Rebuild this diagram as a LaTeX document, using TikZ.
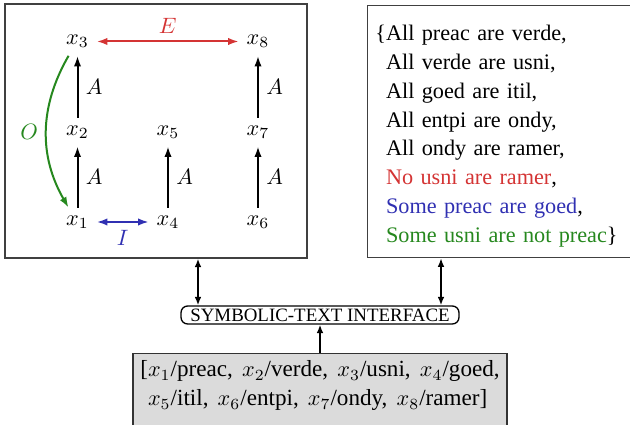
\documentclass[tikz,border=0pt]{standalone}
\usepackage[no-math]{fontspec}
\setmainfont{Liberation Serif}
\usetikzlibrary{arrows.meta}
\definecolor{RojoE}{RGB}{212,52,52}
\definecolor{AzulI}{RGB}{48,48,178}
\definecolor{VerdeO}{RGB}{38,136,30}

\begin{document}
\begin{tikzpicture}[x=0.45pt, y=-0.45pt, >={Latex[length=4.8pt,width=3.3pt]},
    frame/.style={draw=black!75, line width=0.6pt},
    rel/.style={->, line width=0.9pt},
    link/.style={line width=0.7pt, {Latex[length=3.8pt,width=3pt]}-{Latex[length=3.8pt,width=3pt]}}]
    \useasboundingbox (0,0) rectangle (630,425);

    \node[frame, minimum width=135.9pt, minimum height=114.3pt] (logic) at (156,131) {};
    \foreach \n/\x/\y in {1/77.5/222, 2/77.5/132, 3/77.5/41.5, 4/168/222,
                         5/168/132, 6/258/222, 7/258/132, 8/258/41.5}
        \node (x\n) at (\x,\y) {$x_\n$};

    \draw[rel] (x1) -- (x2) node[midway,right] {$A$};
    \draw[rel] (x2) -- (x3) node[midway,right] {$A$};
    \draw[rel] (x4) -- (x5) node[midway,right] {$A$};
    \draw[rel] (x6) -- (x7) node[midway,right] {$A$};
    \draw[rel] (x7) -- (x8) node[midway,right] {$A$};
    \draw[rel,<->,RojoE] (x3) -- (x8) node[midway,above] {$E$};
    \draw[rel,<->,AzulI] (x1) -- (x4) node[midway,below] {$I$};
    \draw[rel,VerdeO] (x3.238) to[bend right=30] node[midway,left] {$O$} (x1.122);

    \node[frame, anchor=north west, text width=115.8pt, minimum height=113.4pt,
          align=left, inner xsep=3.6pt, font=\fontsize{10}{13}\selectfont] (sentences) at (366.7,5)
        {\rule{0pt}{11pt}\{All preac are verde,\\
         \phantom{\{}All verde are usni,\\
         \phantom{\{}All goed are itil,\\
         \phantom{\{}All entpi are ondy,\\
         \phantom{\{}All ondy are ramer,\\
         \phantom{\{}\textcolor{RojoE}{No usni are ramer},\\
         \phantom{\{}\textcolor{AzulI}{Some preac are goed},\\
         \phantom{\{}\textcolor{VerdeO}{Some usni are not preac}\}};

    \node[draw, line width=0.6pt, rounded corners=3pt, minimum width=125.1pt, minimum height=8.1pt,
          inner sep=1pt, font=\fontsize{8.5}{10}\selectfont] (iface) at (320,315)
        {SYMBOLIC-TEXT INTERFACE};

    \node[frame, draw=black!80, fill=black!14, align=left, minimum height=30.2pt,
          font={\fontsize{10.4}{13}\selectfont\spaceskip=4.1pt\relax}] (mapping) at (320,390.5)
        {[$x_1$/preac, $x_2$/verde, $x_3$/usni, $x_4$/goed,\\
         \phantom{[}$x_5$/itil, $x_6$/entpi, $x_7$/ondy, $x_8$/ramer]\rule[-6.4pt]{0pt}{6.4pt}};

    \coordinate (lpt) at (198,0);
    \coordinate (rpt) at (441,0);
    \draw[link] (logic.south -| lpt) -- (iface.north -| lpt);
    \draw[link] (sentences.south -| rpt) -- (iface.north -| rpt);
    \draw[line width=0.7pt, -{Latex[length=3.8pt,width=3pt]}] (mapping) -- (iface);
\end{tikzpicture}
\end{document}
